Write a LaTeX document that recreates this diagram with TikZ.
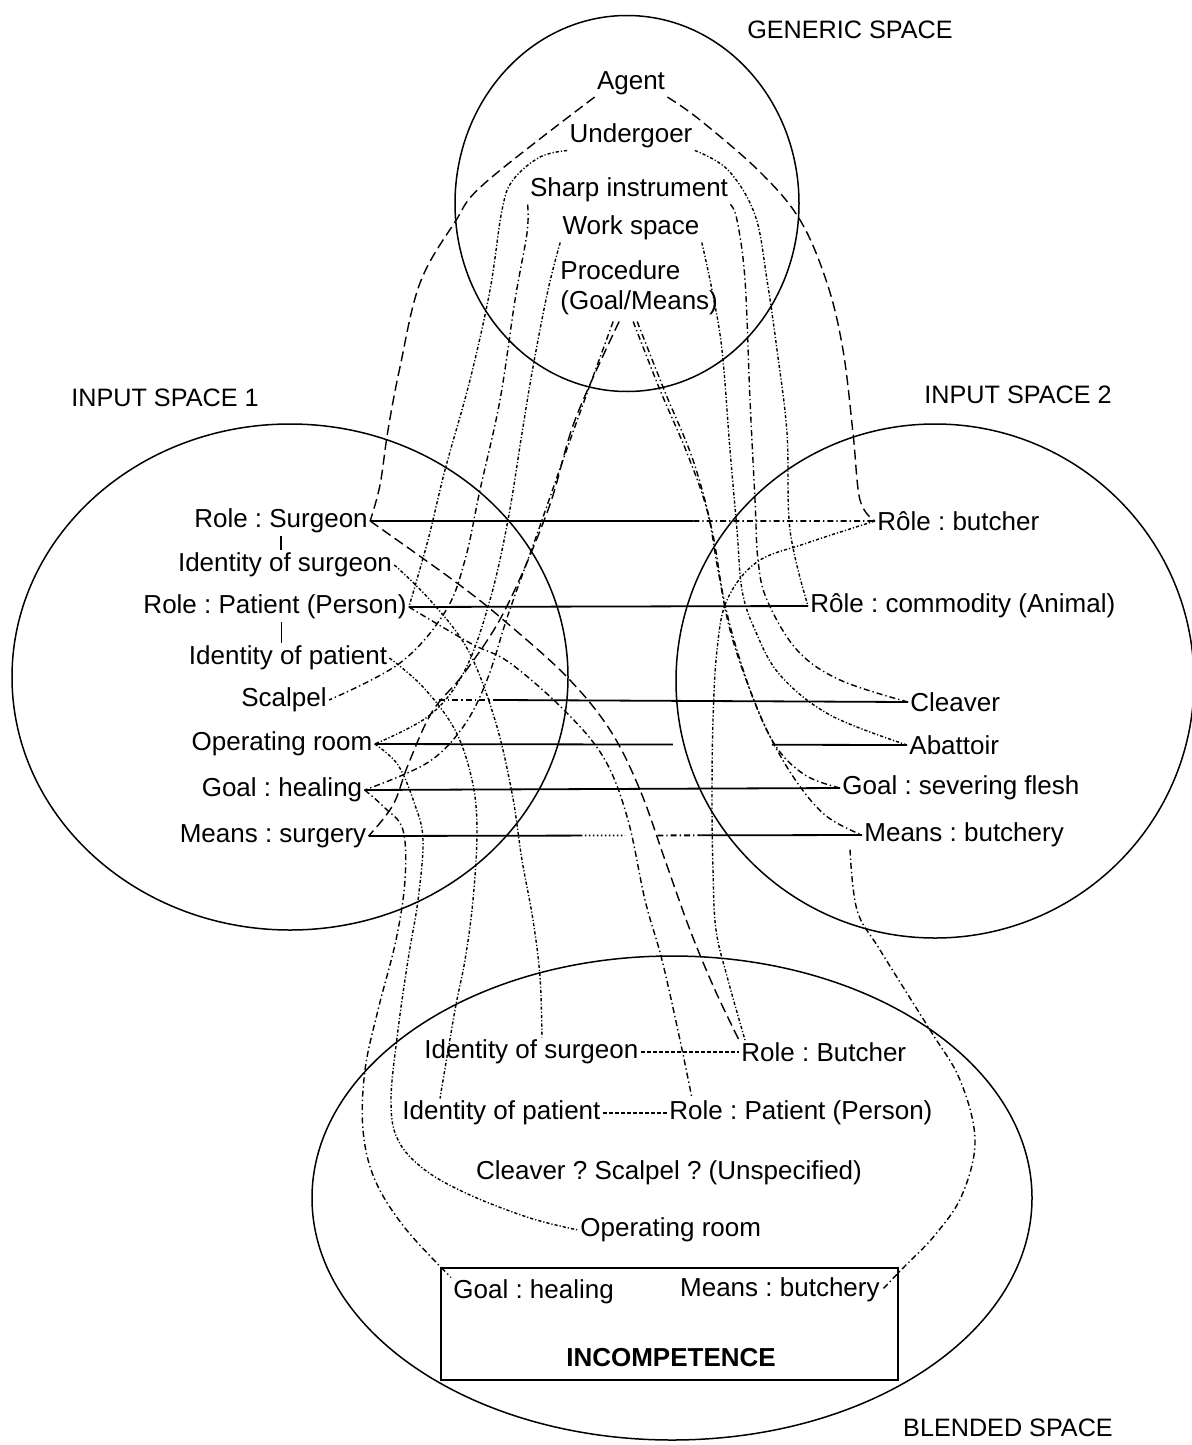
\documentclass[tikz,border=0pt]{standalone}
\usepackage{fontspec}
\setmainfont{Liberation Sans}
\usetikzlibrary{calc}
\frenchspacing

\tikzset{
  txt/.style={font=\fontsize{13}{15}\selectfont, inner sep=1pt},
  lbl/.style={font=\fontsize{12.6}{15}\selectfont, inner sep=1pt},
  space/.style={line width=0.75pt},
  map/.style={line width=0.9pt},
  lnk/.style={line width=0.7pt},
  dl/.style={lnk, dash pattern=on 5pt off 2.5pt},
  dd/.style={lnk, dash pattern=on 3pt off 1.5pt on 0.7pt off 1.5pt},
  dt/.style={lnk, dash pattern=on 1.6pt off 1pt on 0.6pt off 1pt},
  dots/.style={lnk, dash pattern=on 0.8pt off 1.2pt},
  bd/.style={line width=0.8pt, dash pattern=on 2pt off 1pt},
}

\begin{document}
\begin{tikzpicture}[x=0.5pt, y=-0.5pt, every node/.style={txt}]
\useasboundingbox (0,0) rectangle (1192,1445);

% ---- the four mental spaces ----
\draw[space] (627,203.5) ellipse [x radius=172, y radius=188];
\draw[space] (290,677) ellipse [x radius=278, y radius=253];
\draw[space] (935,681) ellipse [x radius=259, y radius=257];
\draw[space] (672,1198) ellipse [x radius=360, y radius=242];

\node[lbl] (lblG) at (850,30) {GENERIC SPACE};
\node[lbl] (lbl1) at (165,398) {INPUT SPACE 1};
\node[lbl] (lbl2) at (1018,395) {INPUT SPACE 2};
\node[lbl] (lblB) at (1008,1428) {BLENDED SPACE};

% ---- generic space ----
\node (agent) at (631,83) {Agent};
\node (under) at (631,136) {Undergoer};
\node (sharp) at (629,190) {Sharp instrument};
\node (work) at (631,228) {Work space};
\node[anchor=west, align=left] (proc) at (558,288) {Procedure\\(Goal/Means)};

% ---- input space 1 ----
\node (rsurg) at (281,521) {Role : Surgeon};
\node (idsurg) at (285,565) {Identity of surgeon};
\node (rpat) at (275,607) {Role : Patient (Person)};
\node (idpat) at (288,658) {Identity of patient};
\node (scalpel) at (284,700) {Scalpel};
\node (oproom) at (282,744) {Operating room};
\node (goalh) at (282,790) {Goal : healing};
\node (meanss) at (273,836) {Means : surgery};

% ---- input space 2 ----
\node[anchor=west] (rbutch) at (875,521) {Rôle : butcher};
\node[anchor=west] (rcomm) at (808,606) {Rôle : commodity (Animal)};
\node[anchor=west] (cleaver) at (908,702) {Cleaver};
\node[anchor=west] (abatt) at (907,745) {Abattoir};
\node[anchor=west] (goalsev) at (840,788) {Goal : severing flesh};
\node[anchor=west] (meansb) at (862,835) {Means : butchery};

% ---- blended space ----
\node[anchor=west] (bidsurg) at (422,1052) {Identity of surgeon};
\node[anchor=west] (bbutch) at (739,1052) {Role : Butcher};
\node[anchor=west] (bidpat) at (400,1113) {Identity of patient};
\node[anchor=west] (bpat) at (667,1113) {Role : Patient (Person)};
\node (bunspec) at (669,1173) {Cleaver ? Scalpel ? (Unspecified)};
\node[anchor=west] (boproom) at (578,1230) {Operating room};
\node[draw, line width=0.8pt, minimum width=228.5pt, minimum height=56pt, inner sep=0pt] (box) at (669.5,1324) {};
\node[anchor=west] (bgoal) at (451,1292) {Goal : healing};
\node[anchor=east] (bmeans) at (882,1290) {Means : butchery};
\node[font=\fontsize{13}{15}\selectfont\bfseries] (incomp) at (671,1358) {INCOMPETENCE};

% ---- role / identity ties in input space 1 ----
\draw[line width=0.7pt] (rsurg.south) -- (rsurg.south |- idsurg.north);
\path (rpat.south) -- (idpat.north) coordinate[pos=0.5] (pm);
\draw[line width=0.7pt] (pm |- rpat.south) -- (pm |- idpat.north);

% ---- cross-space mappings between the inputs ----
\draw[map] (rsurg.east) -- ($(rsurg.east)!0.64!(rbutch.west)$) coordinate (h1);
\draw[dd, map] (h1) -- (rbutch.west);
\draw[map] (rpat.east) -- (rcomm.west);
\draw[dd, map] ($(scalpel.east)+(110,0)$) -- ($(scalpel.east)+(170,0)$) coordinate (h3);
\draw[map] (h3) -- (cleaver.west);
\draw[map] (oproom.east) -- ($(oproom.east)!0.56!(abatt.west)$);
\draw[map] ($(oproom.east)!0.746!(abatt.west)$) -- (abatt.west);
\draw[map] (goalh.east) -- (goalsev.west);
\draw[map] (meanss.east) -- ($(meanss.east)!0.43!(meansb.west)$);
\draw[dots, map] ($(meanss.east)!0.43!(meansb.west)$) -- ($(meanss.east)!0.52!(meansb.west)$);
\draw[dd, map] ($(meanss.east)!0.585!(meansb.west)$) -- ($(meanss.east)!0.675!(meansb.west)$);
\draw[map] ($(meanss.east)!0.675!(meansb.west)$) -- (meansb.west);

% ---- generic space to input space 1 ----
\draw[dl] plot[smooth, tension=0.6] coordinates {(agent.south west) (485,183) (455,222) (420,283) (400,367) (388,430) (380,485) (rsurg.east)};
\draw[dt] plot[smooth, tension=0.6] coordinates {(under.south west) (540,157) (513,180) (502,210) (490,290) (470,380) (445,470) (428,540) (rpat.east)};
\draw[dd] plot[smooth, tension=0.6] coordinates {(sharp.south west) (527,233) (515,300) (500,400) (480,490) (465,560) (445,612) (400,663) (scalpel.east)};
\draw[dt] plot[smooth, tension=0.6] coordinates {(work.south west) (548,290) (533,367) (522,433) (508,520) (490,600) (465,670) (430,715) (oproom.east)};
\draw[dd] plot[smooth, tension=0.6] coordinates {($(proc.south)+(-26,4)$) (590,385) (563,460) (535,540) (508,615) (487,680) (463,727) (427,763) (goalh.east)};
\draw[dl] plot[smooth, tension=0.6] coordinates {($(proc.south)+(-20,4)$) (575,420) (548,510) (505,610) (465,672) (432,712) (408,765) (393,805) (meanss.east)};

% ---- generic space to input space 2 ----
\draw[dl] plot[smooth, tension=0.6] coordinates {(agent.south east) (700,120) (760,172) (800,220) (827,283) (843,350) (853,433) (860,500) (rbutch.west)};
\draw[dt] plot[smooth, tension=0.6] coordinates {(under.south east) (728,170) (755,215) (767,280) (777,350) (787,433) (790,530) (rcomm.west)};
\draw[dd] plot[smooth, tension=0.6] coordinates {(sharp.south east) (737,220) (745,280) (750,400) (755,500) (758,560) (767,600) (797,650) (840,680) (cleaver.west)};
\draw[dt] plot[smooth, tension=0.6] coordinates {(work.south east) (712,290) (722,350) (730,450) (737,530) (742,590) (755,630) (780,675) (830,715) (abatt.west)};
\draw[dd] plot[smooth, tension=0.6] coordinates {($(proc.south)+(-6,4)$) (660,390) (687,453) (707,510) (718,570) (730,630) (750,690) (775,745) (805,775) (goalsev.west)};
\draw[dd] plot[smooth, tension=0.6] coordinates {($(proc.south)+(-2,4)$) (665,392) (693,460) (712,530) (724,600) (740,660) (762,720) (792,775) (825,815) (meansb.west)};

% ---- input spaces to blended space ----
\draw[dl] plot[smooth, tension=0.6] coordinates {(rsurg.east) (457,583) (507,623) (567,677) (610,730) (640,790) (665,860) (690,930) (715,990) (bbutch.north west)};
\draw[dd] plot[smooth, tension=0.6] coordinates {(rpat.east) (470,643) (510,663) (567,713) (605,760) (628,820) (645,900) (662,960) (680,1040) ($(bpat.north west)+(25,0)$)};
\draw[dt] plot[smooth, tension=0.6] coordinates {(idsurg.east) (430,600) (468,650) (495,720) (512,793) (522,860) (533,920) (540,977) ($(bidsurg.north west)+(120,0)$)};
\draw[dt] plot[smooth, tension=0.6] coordinates {(idpat.east) (423,687) (455,730) (472,780) (477,830) (473,900) (465,960) (455,1010) ($(bidpat.north west)+(40,0)$)};
\draw[dt] plot[smooth, tension=0.6] coordinates {(oproom.east) (398,765) (415,805) (423,840) (418,900) (408,960) (398,1030) (391,1100) (398,1140) (425,1170) (470,1195) (530,1218) (boproom.west)};
\draw[dd] plot[smooth, tension=0.6] coordinates {(goalh.east) (385,808) (403,830) (405,880) (396,940) (378,1010) (365,1070) (363,1130) (375,1180) (405,1228) (bgoal.north west)};
\draw[dt] plot[smooth, tension=0.6] coordinates {(rbutch.west) (807,543) (757,562) (727,600) (717,650) (713,720) (712,800) (713,870) (716,930) (728,980) ($(bbutch.north west)+(6,0)$)};
\draw[dd] plot[smooth, tension=0.6] coordinates {($(meansb.south west)+(-12,0)$) (857,910) (880,950) (930,1030) (960,1080) (975,1140) (962,1195) (935,1235) (903,1268) (bmeans.east)};

% ---- links inside the blend ----
\draw[bd] (bidsurg.east) -- (bbutch.west);
\draw[bd] (bidpat.east) -- (bpat.west);
\end{tikzpicture}
\end{document}
